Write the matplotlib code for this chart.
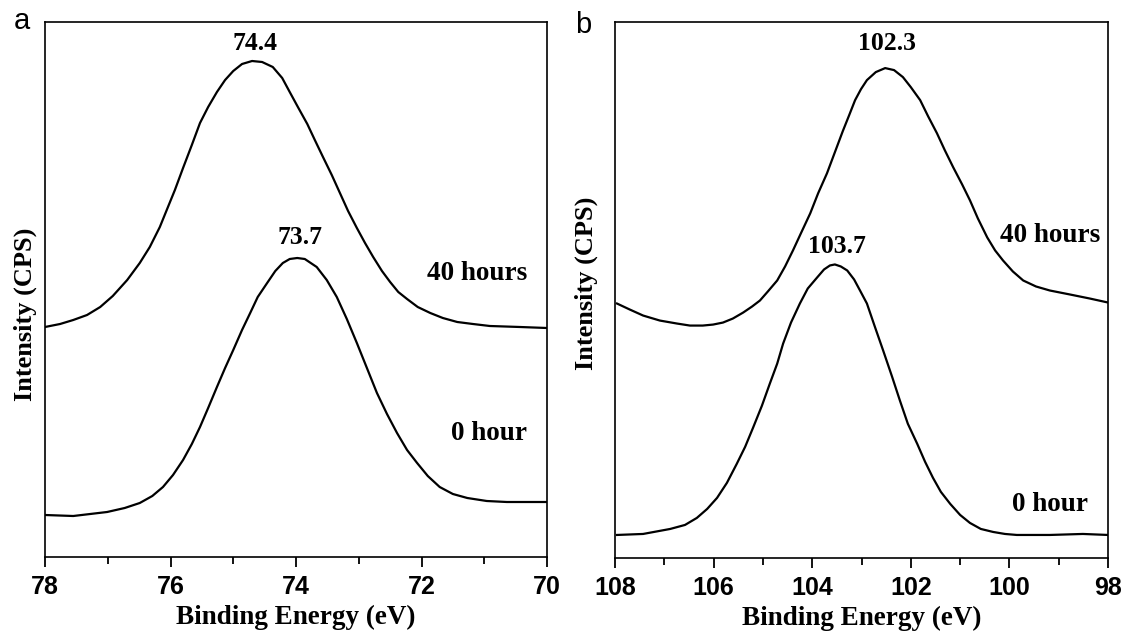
import matplotlib
matplotlib.use("Agg")
import matplotlib.pyplot as plt
from matplotlib.ticker import MultipleLocator

# ---------------- data ----------------
# Panel a : binding energy (eV) and intensity (arb. units)
a40_x = [78.00, 77.76, 77.55, 77.33, 77.12, 76.92, 76.69, 76.49, 76.33, 76.17,
         76.06, 75.93, 75.80, 75.66, 75.53, 75.40, 75.26, 75.13, 75.00, 74.86,
         74.70, 74.54, 74.37, 74.22, 74.10, 73.97, 73.82, 73.70, 73.57, 73.43,
         73.30, 73.17, 73.03, 72.90, 72.77, 72.63, 72.50, 72.37, 72.23, 72.06,
         71.86, 71.66, 71.43, 71.18, 70.91, 70.43, 70.00]
a40_y = [230, 233, 237, 242, 250, 261, 277, 294, 310, 330,
         347, 367, 389, 412, 434, 450, 465, 477, 486, 493,
         496, 495, 490, 479, 465, 450, 433, 417, 400, 382,
         364, 346, 329, 314, 300, 286, 275, 265, 258, 250,
         244, 239, 235, 233, 231, 230, 229]

a0_x = [78.00, 77.55, 77.01, 76.73, 76.49, 76.29, 76.12, 75.96, 75.80, 75.66,
        75.53, 75.40, 75.26, 75.13, 75.00, 74.86, 74.73, 74.61, 74.46, 74.33,
        74.21, 74.10, 73.98, 73.86, 73.67, 73.51, 73.35, 73.19, 73.03, 72.87,
        72.71, 72.55, 72.39, 72.23, 72.07, 71.90, 71.71, 71.50, 71.27, 70.96,
        70.64, 70.00]
a0_y = [42, 41, 45, 49, 54, 61, 70, 82, 97, 113,
        130, 149, 170, 189, 207, 227, 244, 260, 274, 286,
        294, 298, 299, 298, 290, 277, 260, 238, 214, 189,
        164, 143, 124, 107, 94, 81, 70, 63, 59, 56,
        55, 55]

# Panel b
b40_x = [107.96, 107.70, 107.43, 107.09, 106.74, 106.48, 106.22, 106.01, 105.81,
         105.61, 105.40, 105.22, 105.06, 104.90, 104.71, 104.55, 104.39, 104.23,
         104.04, 103.88, 103.70, 103.54, 103.38, 103.25, 103.13, 103.01, 102.89,
         102.71, 102.52, 102.34, 102.16, 102.00, 101.81, 101.65, 101.47, 101.31,
         101.14, 100.96, 100.80, 100.64, 100.45, 100.29, 100.13, 99.93, 99.72,
         99.46, 99.18, 98.77, 98.37, 98.00]
b40_y = [254, 248, 242, 237, 234, 232, 232, 233, 235,
         239, 245, 251, 257, 266, 277, 291, 307, 324,
         344, 364, 384, 405, 426, 442, 457, 468, 477,
         485, 489, 487, 480, 470, 457, 441, 424, 407,
         390, 373, 357, 339, 320, 307, 297, 286, 277,
         271, 267, 263, 259, 255]

b0_x = [107.96, 107.43, 106.88, 106.58, 106.34, 106.13, 105.93, 105.73, 105.53,
        105.36, 105.20, 105.02, 104.86, 104.71, 104.59, 104.43, 104.25, 104.09,
        103.90, 103.76, 103.64, 103.54, 103.42, 103.29, 103.15, 103.03, 102.89,
        102.73, 102.56, 102.38, 102.22, 102.06, 101.87, 101.71, 101.55, 101.39,
        101.20, 101.00, 100.80, 100.58, 100.33, 100.09, 99.85, 99.18, 98.51, 98.00]
b0_y = [23, 24, 29, 33, 40, 49, 60, 75, 94,
        111, 130, 152, 174, 194, 214, 235, 254, 269,
        280, 288, 292, 293, 291, 287, 278, 267, 254,
        231, 207, 181, 157, 134, 114, 96, 80, 66,
        54, 43, 35, 29, 26, 24, 23, 23, 24, 23]

a_ticks = [78, 76, 74, 72, 70]
b_ticks = [108, 106, 104, 102, 100, 98]

a_peak_labels = ["74.4", "73.7"]
b_peak_labels = ["102.3", "103.7"]
series_labels = ["40 hours", "0 hour"]
xlabel = "Binding Energy (eV)"
ylabel = "Intensity (CPS)"

# ---------------- figure ----------------
W, H = 1126, 641
fig = plt.figure(figsize=(W / 100, H / 100), dpi=100)

def px_axes(l, t, r, b):
    return fig.add_axes([l / W, 1 - b / H, (r - l) / W, (b - t) / H])

serif = dict(family="Liberation Serif", weight="bold")

axa = px_axes(45, 22, 547, 557)
axb = px_axes(615, 22, 1108, 558)

def style(ax, xlim, ticks):
    ax.set_xlim(*xlim)
    ax.set_ylim(0, 535)
    ax.set_yticks([])
    ax.set_xticks(ticks)
    ax.xaxis.set_minor_locator(MultipleLocator(1))
    ax.tick_params(axis="x", which="major", direction="out", length=7,
                   width=1.3, pad=6)
    ax.tick_params(axis="x", which="minor", direction="out", length=5,
                   width=1.3)
    for sp in ax.spines.values():
        sp.set_linewidth(1.2)
    for lab in ax.get_xticklabels():
        lab.set_fontfamily("Liberation Sans")
        lab.set_fontweight("bold")
        lab.set_fontsize(18)
    ax.set_xlabel(xlabel, fontsize=19.5, labelpad=4, **serif)

axa.plot(a40_x, a40_y, color="black", lw=1.6)
axa.plot(a0_x, a0_y, color="black", lw=1.6)
style(axa, (78, 70), a_ticks)

axb.plot(b40_x, b40_y, color="black", lw=1.6)
axb.plot(b0_x, b0_y, color="black", lw=1.6)
style(axb, (108, 98), b_ticks)

# annotations
pk = 18.5
hr = 19.5
axa.text(74.66, 514, a_peak_labels[0], ha="center", va="center", fontsize=pk, **serif)
axa.text(73.94, 319, a_peak_labels[1], ha="center", va="center", fontsize=pk, **serif)
axa.text(71.12, 283, series_labels[0], ha="center", va="center", fontsize=hr, **serif)
axa.text(70.92, 124, series_labels[1], ha="center", va="center", fontsize=hr, **serif)

axb.text(102.48, 514, b_peak_labels[0], ha="center", va="center", fontsize=pk, **serif)
axb.text(103.50, 311, b_peak_labels[1], ha="center", va="center", fontsize=pk, **serif)
axb.text(99.18, 322, series_labels[0], ha="center", va="center", fontsize=hr, **serif)
axb.text(99.18, 53, series_labels[1], ha="center", va="center", fontsize=hr, **serif)

# y labels
fig.text(25 / W, 1 - 314 / H, ylabel, rotation=90, ha="center", va="center",
         fontsize=19, **serif)
fig.text(586 / W, 1 - 283 / H, ylabel, rotation=90, ha="center", va="center",
         fontsize=19, **serif)

# panel letters
fig.text(22 / W, 1 - 29 / H, "a", ha="center", va="baseline", fontsize=21,
         family="Liberation Sans")
fig.text(583 / W, 1 - 33 / H, "b", ha="center", va="baseline", fontsize=21,
         family="Liberation Sans")

fig.savefig("out.png", dpi=100)
